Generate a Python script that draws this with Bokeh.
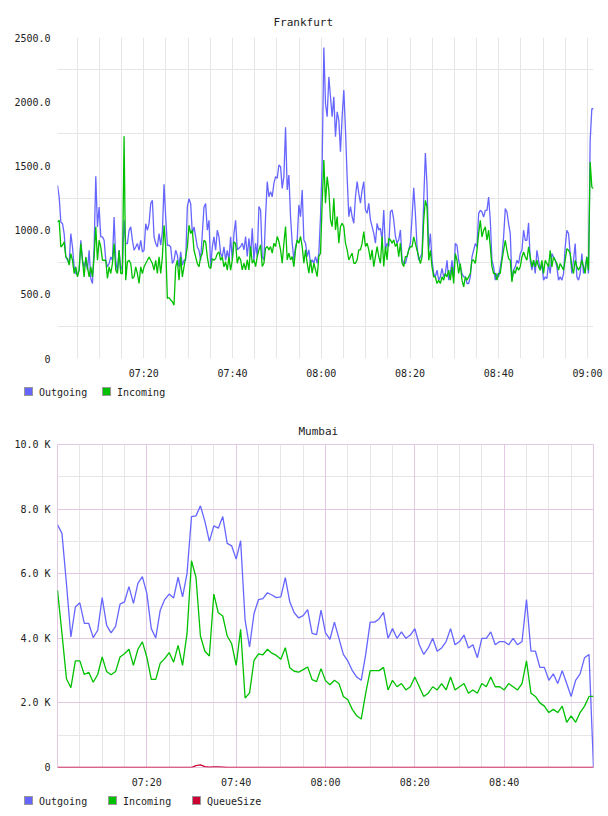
from bokeh.plotting import figure
from bokeh.models import Range1d, FixedTicker, Grid, Div
from bokeh.layouts import column
from bokeh.embed import file_html
from bokeh.resources import INLINE

FONT = "DejaVu Sans Mono"
TEXT_COLOR = "#222222"
OUT_COLOR = "#6666ff"
IN_COLOR = "#00c000"
QUEUE_COLOR = "#cc0033"

# ---------------- Frankfurt: one sample every 22.5 s from 07:00:35 ----------------
FRA_START_MIN = 35 / 60
FRA_STEP_MIN = 22.5 / 60
FRA_OUT = [
    1349, 1258, 1063, 1050, 973, 791, 765, 740, 973, 869,
    714, 662, 650, 688, 921, 765, 714, 765, 688, 843,
    623, 584, 869, 1419, 1025, 1180, 947, 947, 921, 765,
    714, 740, 791, 765, 1102, 765, 675, 843, 688, 727,
    1076, 895, 895, 999, 1025, 921, 843, 869, 895, 843,
    921, 830, 843, 1050, 999, 1050, 1206, 1232, 947, 895,
    869, 973, 882, 986, 1356, 1102, 882, 882, 869, 740,
    765, 843, 804, 714, 830, 727, 765, 765, 1180, 1245,
    1206, 973, 1025, 947, 869, 843, 765, 973, 1180, 1206,
    999, 1076, 714, 869, 947, 843, 999, 947, 817, 791,
    869, 765, 843, 765, 947, 765, 973, 1076,
    846, 859, 872, 898, 846, 950, 794, 937, 794, 1014,
    768, 898, 794, 1183, 1157, 794, 768, 1105, 1377, 1260,
    1300, 1260, 1364, 1416, 1403, 1507, 1494, 1325, 1416, 1800,
    1312, 1429, 1105, 898, 768, 872, 924, 1196, 1105, 1312,
    924, 898, 794, 846, 742, 768, 742, 794, 742, 820,
    1105, 1520, 2422, 1986, 1883, 2193, 2038, 1883, 2038, 1727,
    1921, 1857, 1611, 1883, 2090, 1779, 1416, 1105, 1183, 1105,
    1053, 1260, 1377, 1286, 1209, 1312, 1377, 1157, 1131, 1209,
    1079, 1027, 975, 898, 1053, 1001, 1014, 924, 1157, 846,
    898, 872, 1144, 1157, 1079, 950, 898, 924, 1001, 768,
    742, 742, 794, 846, 898,
    1102, 1330, 1128, 869, 765, 791, 817, 1232, 1600, 1350,
    843, 973, 765, 662, 636, 688, 610, 636, 701, 636,
    662, 765, 610, 662, 765, 636, 895, 882, 765, 714,
    662, 636, 636, 584, 584, 636, 791, 843, 895, 869,
    1128, 1154, 1141, 1102, 1154, 1154, 1258, 1076, 765, 714,
    610, 662, 636, 714, 791, 947, 1167, 1141, 1050, 973,
    610, 688, 714, 765, 740, 817, 843, 999, 921, 921,
    1056, 765, 688, 765, 662, 843, 765, 688, 740, 610,
    636, 623, 740, 662, 817, 791, 765, 714, 610, 636,
    610, 662, 869, 999, 973, 817, 662, 765, 895, 636,
    610, 662, 817, 662, 714, 791, 662,
    1700, 1945, 1945,
]
FRA_IN = [
    1064, 1077, 869, 882, 908, 791, 778, 727, 817, 765,
    662, 714, 636, 688, 895, 765, 636, 791, 714, 636,
    714, 636, 791, 1025, 765, 921, 869, 765, 765, 765,
    623, 714, 662, 740, 895, 688, 662, 843, 662, 662,
    1730, 610, 753, 765, 740, 623, 636, 714, 662, 584,
    714, 662, 714, 740, 765, 791, 765, 740, 688, 765,
    662, 791, 662, 791, 1038, 869, 467, 475, 455, 442,
    416, 714, 765, 610, 791, 636, 714, 791, 869, 1038,
    973, 999, 843, 791, 740, 714, 791, 817, 921, 908,
    791, 714, 700, 778, 765, 778, 817, 830, 765, 791,
    714, 753, 688, 791, 688, 765, 908, 895,
    742, 794, 768, 690, 742, 690, 768, 690, 872, 742,
    768, 716, 794, 846, 885, 716, 742, 859, 872, 846,
    872, 820, 898, 872, 950, 911, 846, 742, 898, 1027,
    768, 820, 768, 794, 716, 846, 924, 898, 950, 872,
    742, 846, 742, 664, 768, 664, 742, 690, 638, 794,
    820, 1209, 1546, 1209, 1416, 1312, 1079, 1027, 1248, 1001,
    1105, 898, 1027, 1053, 1027, 898, 846, 768, 794, 820,
    742, 742, 768, 846, 846, 898, 988, 872, 898, 846,
    768, 846, 716, 794, 872, 794, 742, 950, 716, 872,
    768, 937, 924, 898, 924, 872, 898, 794, 898, 742,
    716, 794, 794, 846, 872,
    869, 947, 895, 843, 791, 740, 791, 1076, 1232, 1180,
    765, 843, 714, 636, 636, 584, 610, 584, 636, 610,
    662, 636, 688, 610, 714, 584, 817, 765, 662, 740,
    610, 558, 636, 610, 636, 662, 765, 765, 740, 843,
    973, 1076, 947, 999, 1025, 921, 999, 869, 714, 662,
    662, 610, 662, 662, 765, 843, 921, 843, 778, 765,
    597, 688, 662, 714, 688, 714, 791, 830, 791, 765,
    869, 791, 714, 765, 714, 765, 714, 688, 765, 662,
    765, 740, 714, 843, 714, 791, 765, 740, 688, 740,
    714, 688, 765, 856, 843, 817, 714, 662, 765, 714,
    688, 714, 765, 714, 662, 791, 688,
    1530, 1336, 1323,
]
FRA_Y_TICKS = [0, 500, 1000, 1500, 2000, 2500]
FRA_Y_LABELS = ["0", "500.0", "1000.0", "1500.0", "2000.0", "2500.0"]
FRA_Y_GRID = [250, 750, 1250, 1750, 2250]

# ---------------- Mumbai: one sample per minute from 07:00 (thousands) ----------------
MUM_START_MIN = 0
MUM_STEP_MIN = 1
MUM_OUT = [
    7.51, 7.25, 5.70, 4.04, 4.97, 5.10, 4.46, 4.46, 4.02, 4.25,
    5.26, 4.40, 4.17, 4.37, 5.06, 5.13, 5.60, 5.08, 5.70, 5.91,
    5.39, 4.30, 4.01, 4.87, 5.20, 5.37, 5.25, 5.89, 5.28, 6.01,
    7.77, 7.79, 8.10, 7.62, 7.00, 7.48, 7.41, 7.77, 6.94, 6.86,
    6.45, 7.02, 4.56, 3.73, 4.77, 5.20, 5.23, 5.41, 5.34, 5.26,
    5.28, 5.88, 5.13, 4.79, 4.63, 4.70, 4.89, 4.15, 4.11, 4.87,
    4.17, 3.97, 4.50, 4.00, 3.50, 3.30, 3.00, 2.80, 2.70, 3.50,
    4.50, 4.50, 4.60, 4.80, 4.00, 4.30, 4.00, 4.20, 4.00, 4.10,
    4.30, 3.80, 3.50, 3.70, 4.00, 3.60, 3.70, 3.90, 4.30, 3.80,
    3.90, 4.10, 3.70, 3.80, 3.40, 4.00, 4.00, 4.20, 3.80, 3.90,
    3.90, 3.80, 4.00, 3.80, 3.90, 5.20, 3.60, 3.60, 3.10, 3.10,
    2.70, 2.90, 2.60, 3.00, 2.60, 2.20, 2.70, 2.90, 3.40, 3.50,
    0.00,
]
MUM_IN = [
    5.49, 4.15, 2.75, 2.47, 3.30, 3.30, 2.88, 2.95, 2.64, 2.88,
    3.42, 2.97, 2.87, 2.97, 3.42, 3.52, 3.66, 3.16, 3.66, 3.89,
    3.42, 2.73, 2.73, 3.23, 3.37, 3.56, 3.26, 3.78, 3.16, 4.15,
    6.40, 5.89, 4.07, 3.60, 3.45, 5.37, 4.79, 4.69, 4.07, 3.83,
    3.16, 4.28, 2.15, 2.31, 3.32, 3.52, 3.49, 3.66, 3.54, 3.47,
    3.35, 3.71, 3.09, 2.98, 2.95, 3.03, 3.11, 2.72, 2.66, 3.06,
    2.69, 2.56, 2.70, 2.60, 2.20, 2.10, 1.80, 1.60, 1.50, 2.30,
    3.00, 3.00, 3.00, 3.10, 2.40, 2.70, 2.50, 2.60, 2.40, 2.50,
    2.80, 2.50, 2.20, 2.30, 2.50, 2.40, 2.60, 2.40, 2.80, 2.40,
    2.50, 2.60, 2.30, 2.40, 2.30, 2.60, 2.50, 2.80, 2.50, 2.50,
    2.40, 2.60, 2.50, 2.40, 2.60, 3.30, 2.30, 2.20, 2.00, 1.90,
    1.70, 1.80, 1.70, 1.90, 1.40, 1.60, 1.40, 1.70, 1.90, 2.20,
    2.20,
]
MUM_QUEUE = [0.0] * 31 + [0.06, 0.08, 0.03, 0.01, 0.02, 0.02, 0.01] + [0.0] * 83
MUM_Y_TICKS = [0, 2, 4, 6, 8, 10]
MUM_Y_LABELS = ["0", "2.0 K", "4.0 K", "6.0 K", "8.0 K", "10.0 K"]

# shared time axis, minutes after 07:00
X_TICKS = [20, 40, 60, 80, 100, 120]
X_LABELS = ["07:20", "07:40", "08:00", "08:20", "08:40", "09:00"]
MINOR_GRID_STEP = 5


def times(start, step, n):
    return [start + i * step for i in range(n)]


def style_axes(p, xticks, xlabels, yticks, ylabels):
    for ax in (p.xaxis[0], p.yaxis[0]):
        ax.axis_line_color = None
        ax.major_tick_line_color = None
        ax.minor_tick_line_color = None
        ax.major_tick_in = 0
        ax.major_tick_out = 0
        ax.major_label_text_font = FONT
        ax.major_label_text_font_size = "10px"
        ax.major_label_text_color = TEXT_COLOR
    p.xaxis[0].ticker = FixedTicker(ticks=xticks)
    p.xaxis[0].major_label_overrides = dict(zip(xticks, xlabels))
    p.xaxis[0].major_label_standoff = 9
    p.yaxis[0].ticker = FixedTicker(ticks=yticks)
    p.yaxis[0].major_label_overrides = dict(zip(yticks, ylabels))
    p.yaxis[0].major_label_standoff = 7


def style_title(p, text, offset, standoff):
    p.title.text = text
    p.title.align = "left"
    p.title.offset = offset
    p.title.standoff = standoff
    p.title.text_font = FONT
    p.title.text_font_size = "11px"
    p.title.text_font_style = "normal"
    p.title.text_color = TEXT_COLOR


def legend_strip(entries, height, swatch_top, item_step):
    """Horizontal legend row of square colour swatches followed by series names."""
    parts = [
        f'<div style="position:relative;width:608px;height:{height}px;'
        f'font-family:\'{FONT}\';font-size:10px;color:{TEXT_COLOR};">'
    ]
    for i, (label, color) in enumerate(entries):
        left = 24 + i * item_step
        parts.append(
            f'<span style="position:absolute;left:{left}px;top:{swatch_top}px;'
            f'width:9px;height:9px;background:{color};border:1px solid #999999;"></span>'
        )
        parts.append(
            f'<span style="position:absolute;left:{left + 15}px;top:{swatch_top}px;'
            f'line-height:11px;white-space:nowrap;">{label}</span>'
        )
    parts.append("</div>")
    return Div(text="".join(parts), width=608, height=height, margin=0)


# ---------------- Frankfurt figure ----------------
fra_t = times(FRA_START_MIN, FRA_STEP_MIN, len(FRA_OUT))
p1 = figure(width=608, height=381, output_backend="svg", toolbar_location=None,
            x_range=Range1d(fra_t[0], fra_t[-1]), y_range=Range1d(0, 2500),
            min_border_left=57, min_border_right=14, min_border_top=37,
            min_border_bottom=23)
p1.outline_line_color = None
style_title(p1, "Frankfurt", 216, 18)
style_axes(p1, X_TICKS, X_LABELS, FRA_Y_TICKS, FRA_Y_LABELS)
p1.xgrid.ticker = FixedTicker(ticks=list(range(MINOR_GRID_STEP, 125, MINOR_GRID_STEP)))
p1.ygrid.ticker = FixedTicker(ticks=FRA_Y_GRID)
for g in (p1.xgrid[0], p1.ygrid[0]):
    g.grid_line_color = "#e6e6e6"
    g.grid_line_width = 1

p1.line(fra_t, FRA_OUT, line_color=OUT_COLOR, line_width=1.3)
p1.line(fra_t, FRA_IN, line_color=IN_COLOR, line_width=1.3)
leg1 = legend_strip([("Outgoing", OUT_COLOR), ("Incoming", IN_COLOR)], 29, 6, 78)

# ---------------- Mumbai figure ----------------
mum_t = times(MUM_START_MIN, MUM_STEP_MIN, len(MUM_OUT))
p2 = figure(width=608, height=380, output_backend="svg", toolbar_location=None,
            x_range=Range1d(0, 120), y_range=Range1d(0, 10),
            min_border_left=57, min_border_right=15, min_border_top=34,
            min_border_bottom=23)
p2.outline_line_color = "#e2c8e2"
p2.outline_line_width = 1
style_title(p2, "Mumbai", 241, 14)
style_axes(p2, X_TICKS[:-1], X_LABELS[:-1], MUM_Y_TICKS, MUM_Y_LABELS)
minor_x = [m for m in range(MINOR_GRID_STEP, 120, MINOR_GRID_STEP) if m % 20]
p2.xgrid.ticker = FixedTicker(ticks=minor_x)
p2.ygrid.ticker = FixedTicker(ticks=[1, 3, 5, 7, 9])
for g in (p2.xgrid[0], p2.ygrid[0]):
    g.grid_line_color = "#e6e6e6"
    g.grid_line_width = 1
p2.add_layout(Grid(dimension=0, ticker=FixedTicker(ticks=[20, 40, 60, 80, 100]),
                   grid_line_color="#e2c8e2", grid_line_width=1))
p2.add_layout(Grid(dimension=1, ticker=FixedTicker(ticks=[2, 4, 6, 8]),
                   grid_line_color="#e2c8e2", grid_line_width=1))

p2.line(mum_t, MUM_OUT, line_color=OUT_COLOR, line_width=1.3)
p2.line(mum_t, MUM_IN, line_color=IN_COLOR, line_width=1.3)
p2.line(mum_t, MUM_QUEUE, line_color=QUEUE_COLOR, line_width=1.3)
leg2 = legend_strip([("Outgoing", OUT_COLOR), ("Incoming", IN_COLOR),
                     ("QueueSize", QUEUE_COLOR)], 26, 6, 84)

layout = column(p1, leg1, p2, leg2, spacing=0)
open("out.html", "w").write(file_html(layout, INLINE))
